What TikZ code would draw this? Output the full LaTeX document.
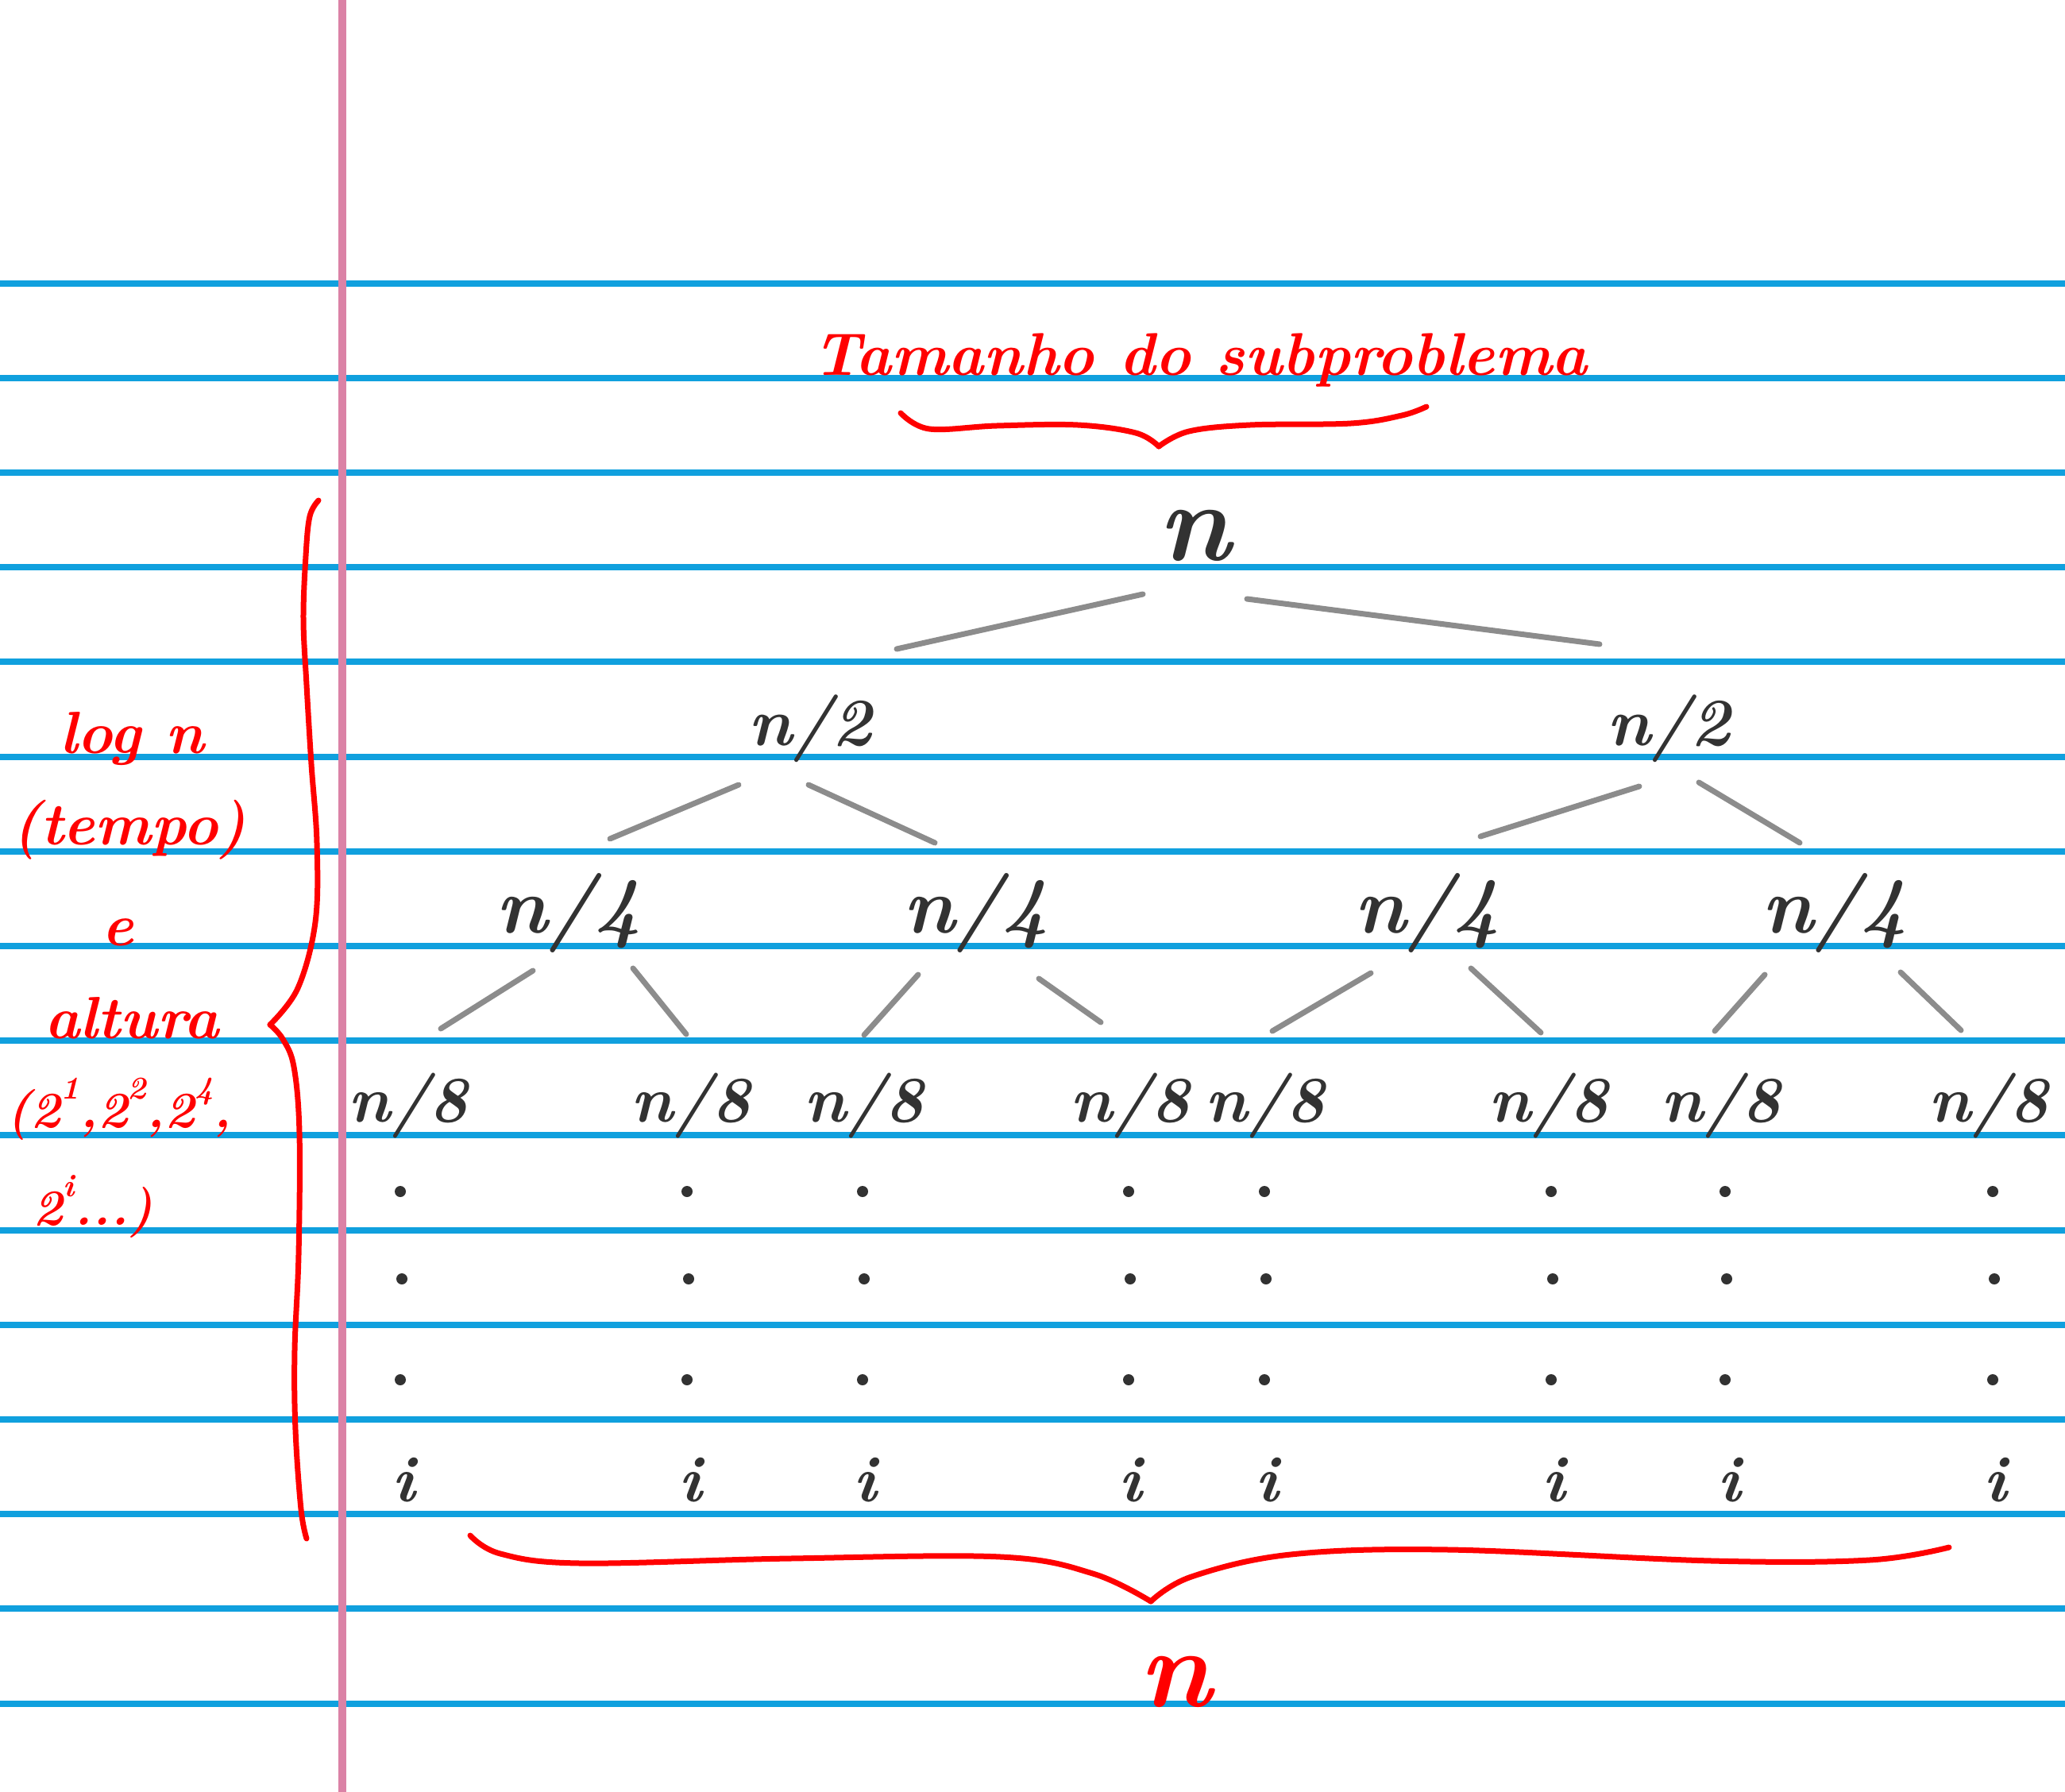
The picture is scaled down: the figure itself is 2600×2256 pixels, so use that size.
\documentclass[tikz,border=0pt]{standalone}
\usepackage{fontspec}
\usetikzlibrary{calc}
\definecolor{ruled}{RGB}{16,160,222}
\definecolor{marginpink}{RGB}{219,130,166}
\definecolor{ink}{RGB}{50,50,50}
\definecolor{edgegray}{RGB}{140,140,140}
\definecolor{redink}{RGB}{255,0,0}
\newcommand\upexp[1]{\raisebox{0.55em}{\fontsize{40}{40}\selectfont #1}}
\tikzset{
  ruleline/.style={draw=ruled, line width=8pt},
  marginline/.style={draw=marginpink, line width=10pt},
  edge/.style={draw=edgegray, line width=7pt, line cap=round},
  brace/.style={draw=redink, line width=7pt, line cap=round, line join=round},
  treetext/.style={text=ink, inner sep=0pt, anchor=base},
  half/.style={treetext, font=\fontsize{85}{85}\selectfont\bfseries\itshape},
  quarter/.style={treetext, font=\fontsize{100}{100}\selectfont\bfseries\itshape},
  eighth/.style={treetext, font=\fontsize{82}{82}\selectfont\bfseries\itshape},
  rootstyle/.style={treetext, font=\fontsize{140}{140}\selectfont\bfseries\itshape},
  leaf/.style={treetext, font=\fontsize{82}{82}\selectfont\bfseries\itshape},
  redtext/.style={text=redink, inner sep=0pt, anchor=base, font=\fontsize{75}{75}\selectfont\bfseries\itshape},
  dotmark/.style={fill=ink},
}
\begin{document}
\begin{tikzpicture}[x=1pt,y=-1pt]
\useasboundingbox (0,0) rectangle (2600,2256);
\fill[white] (0,0) rectangle (2600,2256);
% ruled lines
\foreach \k in {0,...,15}{
  \draw[ruleline] (0,{356.5+119.2*\k}) -- (2600,{356.5+119.2*\k});
}
% margin
\draw[marginline] (431,0) -- (431,2256);

% title
\node[redtext, font=\fontsize{76}{76}\selectfont\bfseries\itshape] (title) at (1511,472) {Tamanho do subproblema};
% top brace
\draw[brace] plot[smooth, tension=0.6] coordinates {(1134,520) (1170,540) (1255,536) (1357,535) (1430,545) (1459,562)};
\draw[brace] plot[smooth, tension=0.6] coordinates {(1459,562) (1497,543) (1574,535) (1701,533) (1765,523) (1796,512)};

% left brace
\draw[brace] plot[smooth, tension=0.6] coordinates {(401,630) (390,650) (385,700) (382,780) (386,862) (392,962) (399,1061) (397,1161) (375,1244) (340,1290)};
\draw[brace] plot[smooth, tension=0.6] coordinates {(340,1290) (356,1308) (370,1343) (377,1426) (376,1580) (371,1700) (372,1800) (379,1900) (386,1937)};

% left notes
\node[redtext] (logn) at (166,948) {log n};
\node[redtext] (tempo) at (163,1063) {(tempo)};
\node[redtext] (conj) at (148,1190) {e};
\node[redtext] (altura) at (166,1307) {altura};
\node[redtext, font=\fontsize{64}{64}\selectfont\bfseries\itshape] (pots) at (150,1419) {(2\upexp{1},2\upexp{2},2\upexp{4},};
\node[redtext, font=\fontsize{64}{64}\selectfont\bfseries\itshape] (potsi) at (117,1542) {2\upexp{i}...)};

% tree
\node[rootstyle] (root) at (1504,705) {n};
\node[half] (h1) at (1020,938) {n/2};
\node[half] (h2) at (2101,938) {n/2};
\node[quarter] (q1) at (716,1174) {n/4};
\node[quarter] (q2) at (1229,1174) {n/4};
\node[quarter] (q3) at (1797,1174) {n/4};
\node[quarter] (q4) at (2310,1174) {n/4};
\foreach \name/\xx in {e1/514,e2/870,e3/1088,e4/1423,e5/1593,e6/1950,e7/2167,e8/2504}{
  \node[eighth] (\name) at (\xx,1412) {n/8};
}
\foreach \name/\xx in {i1/508,i2/869,i3/1089,i4/1423,i5/1595,i6/1956,i7/2177,i8/2512}{
  \node[leaf] (\name) at (\xx,1890) {i};
}
\foreach \xx in {504,865,1086,1421,1592,1953,2172,2509}{
  \fill[dotmark] (\xx,1500) circle (7);
  \fill[dotmark] (\xx+2,1610) circle (7);
  \fill[dotmark] (\xx,1737) circle (7);
}

% edges
\draw[edge] ($(root.base)+(-65,43)$) -- ($(h1.base)+(109,-121)$);
\draw[edge] ($(root.base)+(66,49)$) -- ($(h2.base)+(-87,-127)$);
\draw[edge] ($(h1.base)+(-90,50)$) -- ($(q1.base)+(52,-118)$);
\draw[edge] ($(h1.base)+(-2,50)$) -- ($(q2.base)+(-52,-113)$);
\draw[edge] ($(h2.base)+(-37,52)$) -- ($(q3.base)+(67,-121)$);
\draw[edge] ($(h2.base)+(38,47)$) -- ($(q4.base)+(-44,-113)$);
\draw[edge] ($(q1.base)+(-45,48)$) -- ($(e1.base)+(41,-117)$);
\draw[edge] ($(q1.base)+(81,45)$) -- ($(e2.base)+(-6,-110)$);
\draw[edge] ($(q2.base)+(-73,53)$) -- ($(e3.base)+(0,-109)$);
\draw[edge] ($(q2.base)+(79,58)$) -- ($(e4.base)+(-37,-125)$);
\draw[edge] ($(q3.base)+(-71,51)$) -- ($(e5.base)+(9,-114)$);
\draw[edge] ($(q3.base)+(55,45)$) -- ($(e6.base)+(-10,-112)$);
\draw[edge] ($(q4.base)+(-88,53)$) -- ($(e7.base)+(-8,-114)$);
\draw[edge] ($(q4.base)+(83,50)$) -- ($(e8.base)+(-35,-115)$);

% bottom brace
\draw[brace] plot[smooth, tension=0.6] coordinates {(592,1933) (630,1956) (730,1968) (995,1962) (1260,1960) (1376,1981) (1449,2016)};
\draw[brace] plot[smooth, tension=0.6] coordinates {(1449,2016) (1500,1985) (1625,1957) (1824,1951) (2155,1965) (2354,1964) (2454,1948)};
\node[redtext, font=\fontsize{140}{140}\selectfont\bfseries\itshape] (total) at (1480,2148) {n};
\end{tikzpicture}
\end{document}
